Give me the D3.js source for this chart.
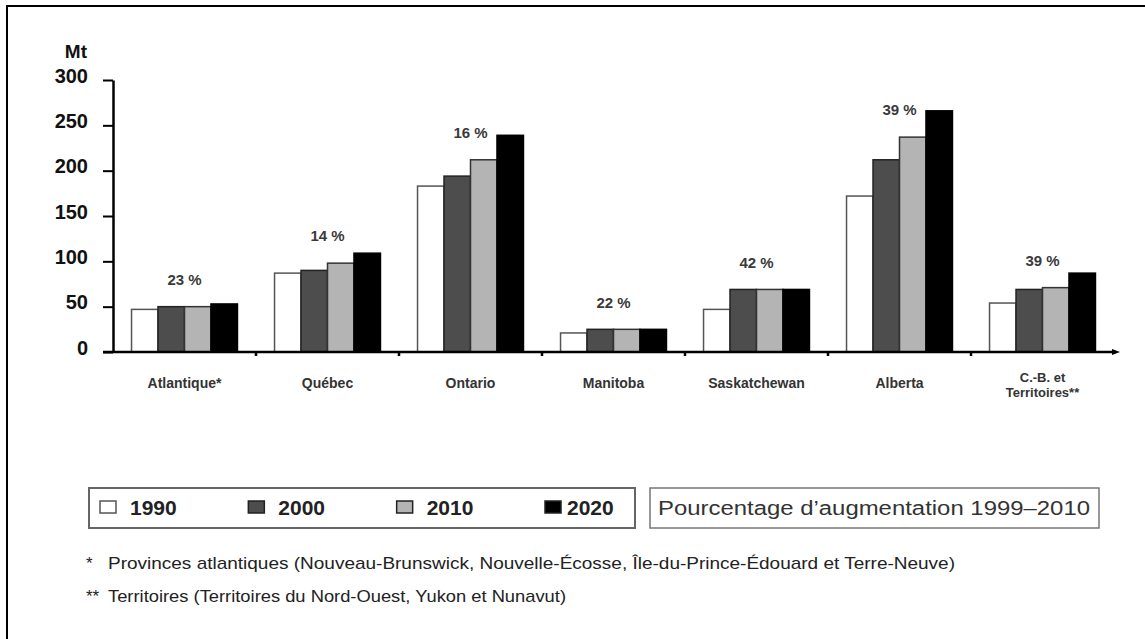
<!DOCTYPE html>
<html>
<head>
<meta charset="utf-8">
<script src="https://cdn.jsdelivr.net/npm/d3@7"></script>
<style>
  body { margin: 0; background: #fff; }
  svg { display: block; font-family: "Liberation Sans", Arial, sans-serif; }
</style>
</head>
<body>
<div id="wrapper"></div>
<script>
const categories = ['Atlantique*', 'Québec', 'Ontario', 'Manitoba', 'Saskatchewan', 'Alberta', 'C.-B. et\nTerritoires**']
const years = ['1990', '2000', '2010', '2020']
const values1990 = [47, 87, 183, 21, 47, 172, 54]
const values2000 = [50, 90, 194, 25, 69, 212, 69]
const values2010 = [50, 98, 212, 25, 69, 237, 71]
const values2020 = [53, 109, 239, 25, 69, 266, 87]
const pctLabels = ['23 %', '14 %', '16 %', '22 %', '42 %', '39 %', '39 %']
const yTicks = [0, 50, 100, 150, 200, 250, 300]
const yUnit = 'Mt'
const legendNote = 'Pourcentage d\u2019augmentation 1999\u20132010'
const footnoteMarks = ['*', '**']
const footnotes = [
  'Provinces atlantiques (Nouveau-Brunswick, Nouvelle-Écosse, Île-du-Prince-Édouard et Terre-Neuve)',
  'Territoires (Territoires du Nord-Ouest, Yukon et Nunavut)',
]

const seriesValues = [values1990, values2000, values2010, values2020]
const fills = ['#ffffff', '#4d4d4d', '#b4b4b4', '#000000']
const strokes = ['#555555', '#222222', '#333333', '#000000']

const data = categories.map((c, i) => ({
  category: c,
  values: years.map((y, j) => ({ year: y, value: seriesValues[j][i] })),
}))

const width = 1145
const height = 639

const svg = d3.select('#wrapper')
  .append('svg')
    .attr('width', width)
    .attr('height', height)

// frame (top + left edges only are visible)
svg.append('path')
    .attr('d', `M7,${height} V6 H${width}`)
    .attr('fill', 'none')
    .attr('stroke', '#000')
    .attr('stroke-width', 2)

const xScale = d3.scaleBand()
    .domain(categories)
    .range([113, 1114])

const xInner = d3.scaleBand()
    .domain(years)
    .range([0, xScale.bandwidth()])
    .paddingInner(0)
    .paddingOuter(0.7)

const yScale = d3.scaleLinear()
    .domain([0, 300])
    .range([352, 80])

// bars
const groups = svg.append('g')
  .selectAll('g')
  .data(data)
  .join('g')
    .attr('transform', d => `translate(${xScale(d.category)},0)`)

groups.selectAll('rect')
  .data(d => d.values)
  .join('rect')
    .attr('x', d => xInner(d.year))
    .attr('y', d => yScale(d.value))
    .attr('width', xInner.bandwidth())
    .attr('height', d => yScale(0) - yScale(d.value))
    .attr('fill', (d, i) => fills[i])
    .attr('stroke', (d, i) => strokes[i])
    .attr('stroke-width', 1.5)

// percentage labels, above the 2010 bar
groups.append('text')
    .attr('x', xScale.bandwidth() / 2)
    .attr('y', (d, i) => yScale(values2010[i]) - 27)
    .attr('dy', '0.35em')
    .attr('text-anchor', 'middle')
    .style('font-size', '15px')
    .style('font-weight', 'bold')
    .attr('fill', '#3a3a3a')
    .text((d, i) => pctLabels[i])

// y axis
const yAxis = svg.append('g')
    .attr('transform', 'translate(113,0)')
    .call(d3.axisLeft(yScale)
      .tickValues(yTicks)
      .tickSize(10)
      .tickSizeOuter(0)
      .tickPadding(15))
yAxis.select('.domain').attr('stroke-width', 2.5)
yAxis.selectAll('.tick line').attr('stroke-width', 2)
yAxis.selectAll('.tick text')
    .attr('dy', '0.1em')
    .style('font-size', '20px')
    .style('font-weight', 'bold')
    .style('font-family', '"Liberation Sans", Arial, sans-serif')
    .attr('fill', '#111')

svg.append('text')
    .attr('x', 87)
    .attr('y', 58)
    .attr('text-anchor', 'end')
    .style('font-size', '19px')
    .style('font-weight', 'bold')
    .attr('fill', '#111')
    .text(yUnit)

// x axis
const x0 = yScale(0)
svg.append('line')
    .attr('x1', 103)
    .attr('x2', 1116)
    .attr('y1', x0)
    .attr('y2', x0)
    .attr('stroke', '#000')
    .attr('stroke-width', 2.5)
svg.append('path')
    .attr('d', `M1112,${x0 - 3} L1120,${x0} L1112,${x0 + 3} Z`)
    .attr('fill', '#000')

svg.append('g')
  .selectAll('line')
  .data(categories.slice(1))
  .join('line')
    .attr('x1', d => xScale(d))
    .attr('x2', d => xScale(d))
    .attr('y1', x0)
    .attr('y2', x0 + 4)
    .attr('stroke', '#000')
    .attr('stroke-width', 2.5)

const catLabels = svg.append('g')
  .selectAll('text')
  .data(categories)
  .join('text')
    .attr('x', d => xScale(d) + xScale.bandwidth() / 2)
    .attr('y', d => d.includes('\n') ? 382 : 388)
    .attr('text-anchor', 'middle')
    .style('font-size', d => d.includes('\n') ? '13px' : '14px')
    .style('font-weight', 'bold')
    .attr('fill', '#333')

catLabels.selectAll('tspan')
  .data(d => d.split('\n'))
  .join('tspan')
    .attr('x', function () { return this.parentNode.getAttribute('x') })
    .attr('dy', (d, i) => i === 0 ? 0 : 15)
    .text(d => d)

// legend
const legend = svg.append('g')
legend.append('rect')
    .attr('x', 89)
    .attr('y', 488)
    .attr('width', 546)
    .attr('height', 40)
    .attr('fill', 'none')
    .attr('stroke', '#666')
    .attr('stroke-width', 2)
legend.append('rect')
    .attr('x', 650)
    .attr('y', 488)
    .attr('width', 449)
    .attr('height', 40)
    .attr('fill', 'none')
    .attr('stroke', '#777')
    .attr('stroke-width', 1.5)

const legendX = d3.scalePoint()
    .domain(years)
    .range([100, 545])

const items = legend.selectAll('g.item')
  .data(years)
  .join('g')
    .attr('class', 'item')
    .attr('transform', d => `translate(${legendX(d)},0)`)

items.append('rect')
    .attr('x', 0)
    .attr('y', 501)
    .attr('width', 16)
    .attr('height', 12)
    .attr('fill', (d, i) => fills[i])
    .attr('stroke', (d, i) => i === 0 ? '#555' : '#222')
    .attr('stroke-width', 1.5)

items.append('text')
    .attr('x', (d, i) => i === 3 ? 22 : 30)
    .attr('y', 515)
    .style('font-size', '21px')
    .style('font-weight', 'bold')
    .attr('fill', '#222')
    .text(d => d)

legend.append('text')
    .attr('x', 658)
    .attr('y', 515)
    .attr('textLength', 432)
    .attr('lengthAdjust', 'spacingAndGlyphs')
    .style('font-size', '20px')
    .attr('fill', '#333')
    .text(legendNote)

// footnotes
const noteLengths = [847, 458]
const notes = svg.append('g')
  .selectAll('g')
  .data(footnotes)
  .join('g')
    .attr('transform', (d, i) => `translate(0,${569 + i * 33})`)

notes.append('text')
    .attr('x', 86)
    .style('font-size', '17px')
    .attr('fill', '#222')
    .text((d, i) => footnoteMarks[i])

notes.append('text')
    .attr('x', 108)
    .attr('textLength', (d, i) => noteLengths[i])
    .attr('lengthAdjust', 'spacingAndGlyphs')
    .style('font-size', '17px')
    .attr('fill', '#222')
    .text(d => d)
</script>
</body>
</html>
